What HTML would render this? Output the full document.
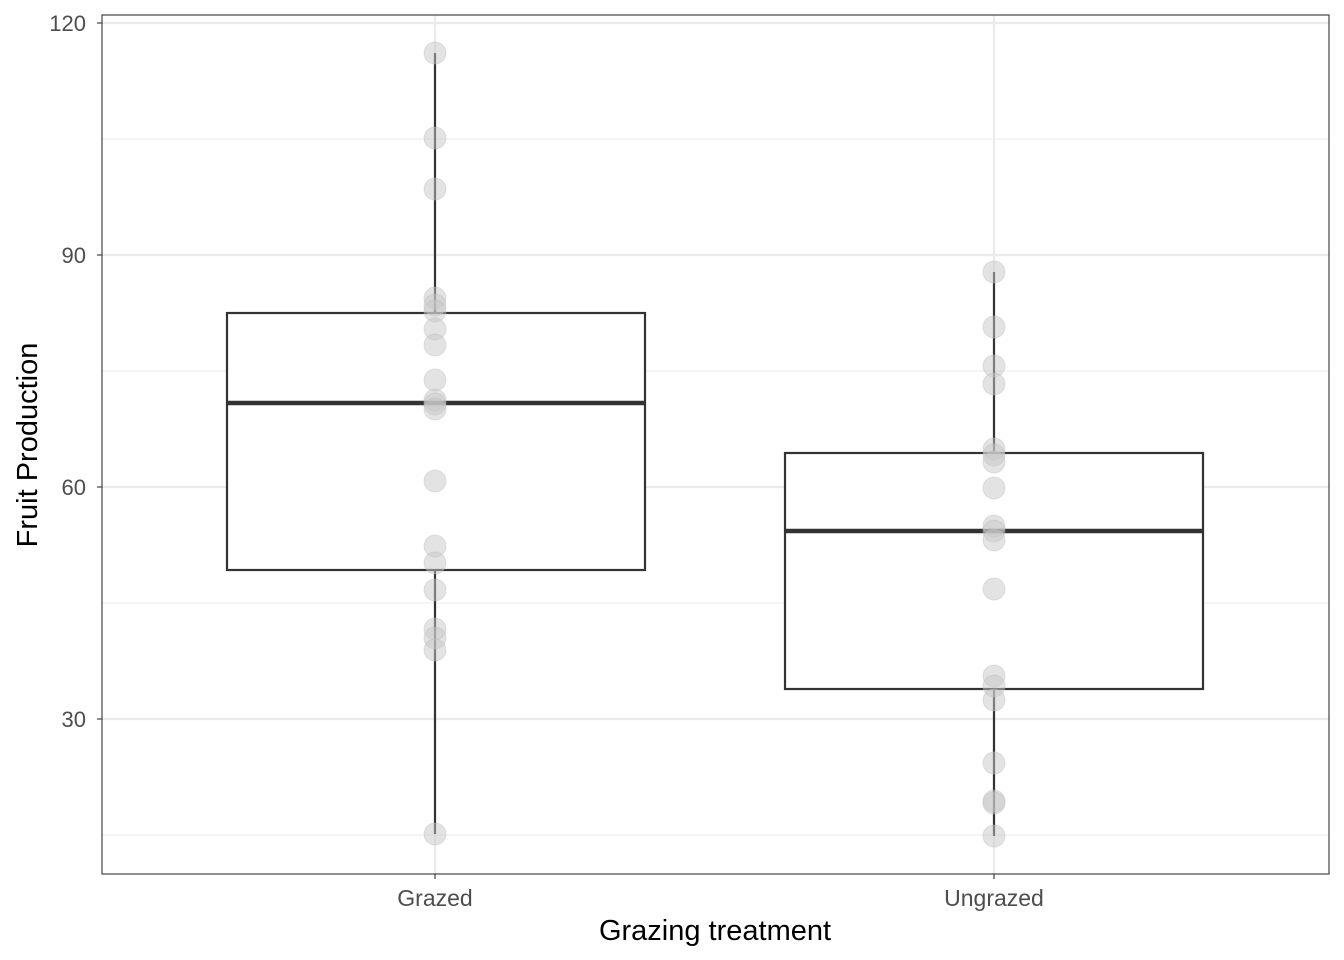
<!DOCTYPE html>
<html><head><style>body{margin:0;background:#fff}svg{display:block}text{font-family:"Liberation Sans",sans-serif}</style></head>
<body>
<svg width="1344" height="960" viewBox="0 0 1344 960" xmlns="http://www.w3.org/2000/svg">
<rect width="1344" height="960" fill="#fff"/>
<g stroke="#ebebeb" stroke-width="1.1">
<line x1="102" x2="1329" y1="139" y2="139"/><line x1="102" x2="1329" y1="371" y2="371"/>
<line x1="102" x2="1329" y1="603" y2="603"/><line x1="102" x2="1329" y1="835" y2="835"/>
</g>
<g stroke="#ebebeb" stroke-width="2.2">
<line x1="102" x2="1329" y1="23" y2="23"/><line x1="102" x2="1329" y1="255" y2="255"/>
<line x1="102" x2="1329" y1="487" y2="487"/><line x1="102" x2="1329" y1="719" y2="719"/>
<line x1="435" x2="435" y1="15" y2="874"/><line x1="994" x2="994" y1="15" y2="874"/>
</g>
<g stroke="#333" stroke-width="2.2" fill="#fff">
<line x1="435" x2="435" y1="53" y2="834"/>
<rect x="227" y="313" width="418" height="257"/>
<line x1="994" x2="994" y1="272" y2="836"/>
<rect x="785" y="453" width="418" height="236"/>
</g>
<g stroke="#333" stroke-width="4.5">
<line x1="227" x2="645" y1="403" y2="403"/>
<line x1="785" x2="1203" y1="531" y2="531"/>
</g>
<g fill="#c8c8c8" fill-opacity="0.5" stroke="#bbb" stroke-opacity="0.4">
<circle cx="435" cy="53" r="11"/><circle cx="435" cy="138" r="11"/><circle cx="435" cy="189" r="11"/>
<circle cx="435" cy="298" r="11"/><circle cx="435" cy="305" r="11"/><circle cx="435" cy="311" r="11"/>
<circle cx="435" cy="329" r="11"/><circle cx="435" cy="345" r="11"/><circle cx="435" cy="380" r="11"/>
<circle cx="435" cy="400" r="11"/><circle cx="435" cy="404" r="11"/><circle cx="435" cy="409" r="11"/>
<circle cx="435" cy="481" r="11"/><circle cx="435" cy="546" r="11"/><circle cx="435" cy="563" r="11"/>
<circle cx="435" cy="590" r="11"/><circle cx="435" cy="629" r="11"/><circle cx="435" cy="638" r="11"/>
<circle cx="435" cy="650" r="11"/><circle cx="435" cy="834" r="11"/>
<circle cx="994" cy="272" r="11"/><circle cx="994" cy="327" r="11"/><circle cx="994" cy="366" r="11"/>
<circle cx="994" cy="384" r="11"/><circle cx="994" cy="449" r="11"/><circle cx="994" cy="455" r="11"/>
<circle cx="994" cy="462" r="11"/><circle cx="994" cy="488" r="11"/><circle cx="994" cy="526" r="11"/>
<circle cx="994" cy="531" r="11"/><circle cx="994" cy="540" r="11"/><circle cx="994" cy="589" r="11"/>
<circle cx="994" cy="676" r="11"/><circle cx="994" cy="686" r="11"/><circle cx="994" cy="700" r="11"/>
<circle cx="994" cy="763" r="11"/><circle cx="994" cy="801" r="11"/><circle cx="994" cy="803" r="11"/>
<circle cx="994" cy="836" r="11"/>
</g>
<rect x="102" y="15" width="1227" height="859" fill="none" stroke="#333" stroke-width="1.1"/>
<g stroke="#333" stroke-width="1.1">
<line x1="97" x2="102" y1="23" y2="23"/><line x1="97" x2="102" y1="255" y2="255"/>
<line x1="97" x2="102" y1="487" y2="487"/><line x1="97" x2="102" y1="719" y2="719"/>
<line x1="435" x2="435" y1="874" y2="879"/><line x1="994" x2="994" y1="874" y2="879"/>
</g>
<g fill="#4d4d4d" font-size="22" text-anchor="end">
<text x="86" y="31">120</text><text x="86" y="263">90</text><text x="86" y="495">60</text><text x="86" y="727">30</text>
</g>
<g fill="#4d4d4d" font-size="23" text-anchor="middle">
<text x="435" y="906">Grazed</text><text x="994" y="906">Ungrazed</text>
</g>
<text x="715" y="940" font-size="29" text-anchor="middle" fill="#000">Grazing treatment</text>
<text transform="translate(37,445) rotate(-90)" font-size="29" text-anchor="middle" fill="#000">Fruit Production</text>
</svg>
</body></html>
